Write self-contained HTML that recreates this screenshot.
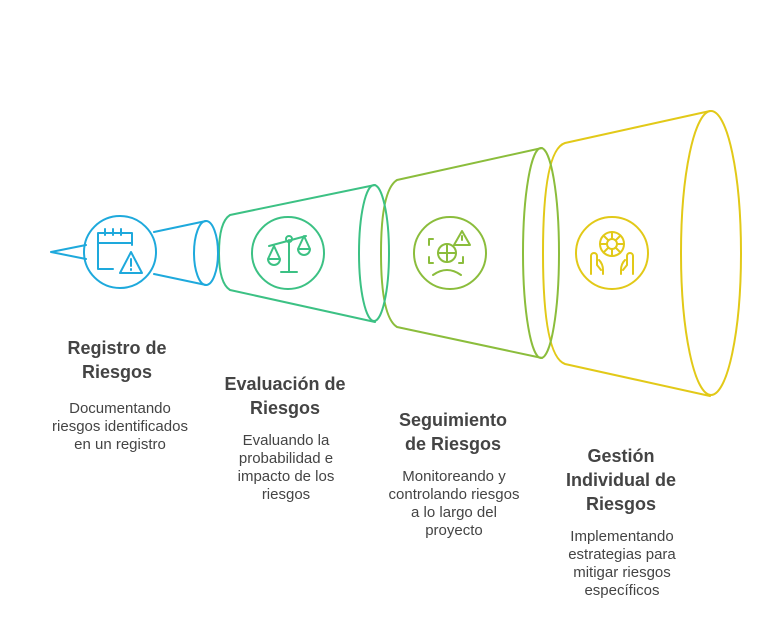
<!DOCTYPE html>
<html><head><meta charset="utf-8"><style>
html,body{margin:0;padding:0;background:#fff;}
svg{display:block;}
.t{font-family:"Liberation Sans",Arial,sans-serif;font-weight:bold;font-size:18px;fill:#444;text-anchor:middle;}
.b{font-family:"Liberation Sans",Arial,sans-serif;font-size:15px;fill:#444;text-anchor:middle;}
</style></head><body>
<svg width="765" height="623" viewBox="0 0 765 623" xmlns="http://www.w3.org/2000/svg">
<g fill="none" stroke-width="2" stroke-linejoin="round" stroke-linecap="round">
<g stroke="#E2C918">
<path d="M710,111 L565,143 Q543,150 543,253 Q543,356 565,364 L710,396"/>
<ellipse cx="711" cy="253" rx="30" ry="142"/>
<circle cx="612" cy="253" r="36"/>
<circle cx="612" cy="244" r="12"/><circle cx="612" cy="244" r="5"/>
<path d="M612,232v7M612,249v7M600,244h7M617,244h7M604,236l4,4M616,248l4,4M620,236l-4,4M608,248l-4,4"/>
<path d="M591,274v-18a3,3 0 0 1 6,0v9l4,5M599,260q4,4 4,10v4"/>
<path d="M633,274v-18a3,3 0 0 0 -6,0v9l-4,5M625,260q-4,4 -4,10v4"/>
</g>
<g stroke="#8BBD3C">
<path d="M542,148 L397,180 Q381,190 381,253 Q381,317 397,327 L542,358"/>
<ellipse cx="541" cy="253" rx="18" ry="105"/>
<circle cx="450" cy="253" r="36"/>
<path d="M433,239h-4v6M429,257v6h4M459,263h4v-6"/>
<circle cx="447" cy="253" r="9"/><path d="M438,253h18M447,244v18"/>
<path d="M433,275q14,-10 28,0"/>
<path d="M462,231l-8,14h16z"/><path d="M462,236v4"/>
</g>
<g stroke="#3CC184">
<path d="M375,185 L230,215 Q219,222 219,253 Q219,283 230,290 L375,322"/>
<ellipse cx="374" cy="253" rx="15" ry="68"/>
<circle cx="288" cy="253" r="36"/>
<path d="M269,246l37,-10M289,240v32M281,272h16"/>
<circle cx="289" cy="239" r="3"/>
<path d="M274,246l-6,13h12z M268,259a6,6 0 0 0 12,0"/>
<path d="M304,236l-6,13h12z M298,249a6,6 0 0 0 12,0"/>
</g>
<g stroke="#1EA9DC">
<path d="M206,221 L154,232 M206,285 L154,274 M86,245 L51,252 L86,259"/>
<ellipse cx="206" cy="253" rx="12" ry="32"/>
<circle cx="120" cy="252" r="36"/>
<path d="M113,269h-15v-26M98,243v-10h34v12M98,243h34"/>
<path d="M105,229v6M113,229v6M121,229v6"/>
<path d="M131,252l-11,21h22z"/><path d="M131,259v7M131,269v1"/>
</g>
</g>
<text class="t" x="117" y="354">Registro de</text>
<text class="t" x="117" y="378">Riesgos</text>
<text class="b" x="120" y="413">Documentando</text>
<text class="b" x="120" y="431">riesgos identificados</text>
<text class="b" x="120" y="449">en un registro</text>
<text class="t" x="285" y="390">Evaluación de</text>
<text class="t" x="285" y="414">Riesgos</text>
<text class="b" x="286" y="445">Evaluando la</text>
<text class="b" x="286" y="463">probabilidad e</text>
<text class="b" x="286" y="481">impacto de los</text>
<text class="b" x="286" y="499">riesgos</text>
<text class="t" x="453" y="426">Seguimiento</text>
<text class="t" x="453" y="450">de Riesgos</text>
<text class="b" x="454" y="481">Monitoreando y</text>
<text class="b" x="454" y="499">controlando riesgos</text>
<text class="b" x="454" y="517">a lo largo del</text>
<text class="b" x="454" y="535">proyecto</text>
<text class="t" x="621" y="462">Gestión</text>
<text class="t" x="621" y="486">Individual de</text>
<text class="t" x="621" y="510">Riesgos</text>
<text class="b" x="622" y="541">Implementando</text>
<text class="b" x="622" y="559">estrategias para</text>
<text class="b" x="622" y="577">mitigar riesgos</text>
<text class="b" x="622" y="595">específicos</text>
</svg>
</body></html>
